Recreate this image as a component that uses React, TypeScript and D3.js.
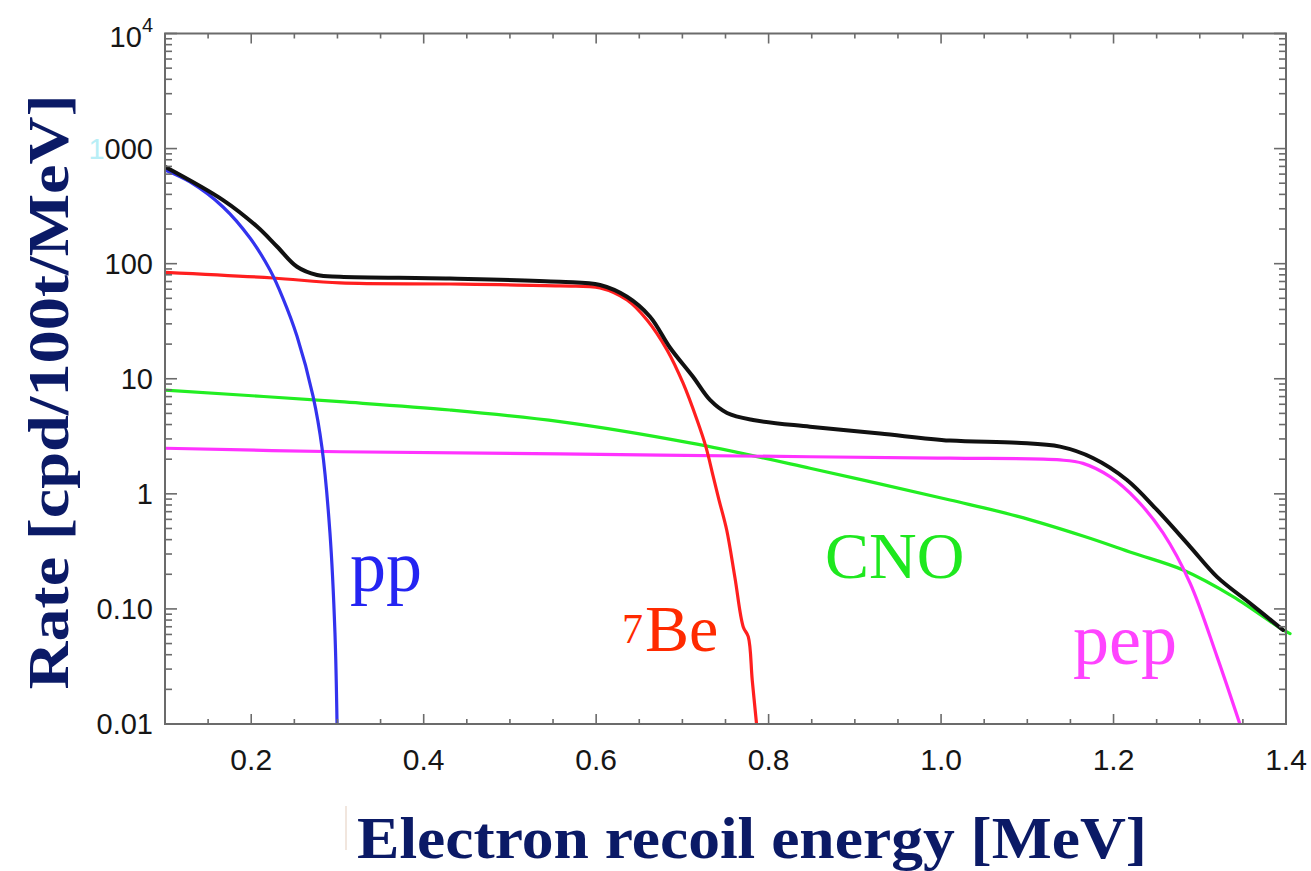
import { useEffect } from "react";
import * as d3 from "d3";

type Pt = [number, number];

// [electron recoil energy (MeV), rate (cpd/100t/MeV)]
const ppSpectrum: Pt[] = [
  [0.1, 652], [0.129, 513], [0.1673, 311], [0.1986, 167], [0.2218, 88],
  [0.2368, 50], [0.2531, 23.4], [0.2716, 7.1], [0.2821, 2.5], [0.2913, 0.457],
  [0.2971, 0.0618], [0.2995, 0.01],
];

const be7Spectrum: Pt[] = [
  [0.1, 84.1], [0.2252, 75.1], [0.303, 68], [0.4305, 66.6], [0.558, 64.0],
  [0.6045, 61.5], [0.6358, 48.3], [0.659, 32.4], [0.6822, 17.8], [0.7007, 9.19],
  [0.717, 4.38], [0.7272, 2.57], [0.7358, 1.41], [0.7425, 0.883], [0.7514, 0.485],
  [0.761, 0.186], [0.7706, 0.0697], [0.7764, 0.0574], [0.781, 0.0241], [0.786, 0.01],
];

const cnoSpectrum: Pt[] = [
  [0.1, 7.98], [0.303, 6.32], [0.4305, 5.35], [0.558, 4.24], [0.7088, 2.77],
  [0.848, 1.67], [1.0104, 0.883], [1.088, 0.64], [1.1646, 0.43], [1.2226, 0.306],
  [1.2806, 0.218], [1.3386, 0.128], [1.3965, 0.0656], [1.4047, 0.061],
];

const pepSpectrum: Pt[] = [
  [0.1, 2.49], [0.303, 2.32], [0.558, 2.22], [0.848, 2.1], [1.0104, 2.04],
  [1.138, 1.97], [1.1646, 1.84], [1.1959, 1.41], [1.2272, 0.883], [1.2574, 0.457],
  [1.2887, 0.168], [1.32, 0.0385], [1.3465, 0.01],
];

const totalSpectrum: Pt[] = [
  [0.1, 696], [0.1673, 357], [0.2067, 210], [0.2299, 141], [0.2531, 94],
  [0.2763, 79.8], [0.303, 77.1], [0.4305, 74.3], [0.5581, 69.7], [0.6045, 65.3],
  [0.6358, 51.6], [0.6625, 34.6], [0.6857, 18.6], [0.7123, 10.4], [0.732, 6.54],
  [0.7518, 5.04], [0.7819, 4.38], [0.848, 3.83], [0.9292, 3.34], [1.0104, 2.9],
  [1.088, 2.78], [1.138, 2.57], [1.176, 2.05], [1.2156, 1.32], [1.2504, 0.724],
  [1.2887, 0.348], [1.32, 0.19], [1.3583, 0.112], [1.3965, 0.0656],
];

const xMajorTicks = [0.2, 0.4, 0.6, 0.8, 1.0, 1.2, 1.4];
const xTickLabels = ["0.2", "0.4", "0.6", "0.8", "1.0", "1.2", "1.4"];
const yDecades = [0.01, 0.1, 1, 10, 100, 1000, 10000];
const yTickLabels = ["0.01", "0.10", "1", "10", "100", "1000", "10^4"];

const W = 1311;
const H = 871;
const margin = { top: 33.5, right: 25, bottom: 147, left: 165 };

export default function App() {
  useEffect(() => {
    document.body.style.margin = "0";
  }, []);

  const x = d3.scaleLinear().domain([0.1, 1.4]).range([margin.left, W - margin.right]);
  const y = d3.scaleLog().domain([0.01, 1e4]).range([H - margin.bottom, margin.top]);
  const [x0, x1] = x.range();
  const [y0, y1] = y.range(); // y0 bottom, y1 top

  const line = d3
    .line<Pt>()
    .x(d => x(d[0]))
    .y(d => y(d[1]))
    .curve(d3.curveCatmullRom.alpha(0.5));

  // minor ticks every 0.05 MeV, 2..9 per decade
  const xMinor = d3.range(0.15, 1.4, 0.05).filter(v => !xMajorTicks.some(m => Math.abs(m - v) < 1e-6));
  const yMinor = yDecades.slice(0, -1).flatMap(d => d3.range(2, 10).map(k => k * d));

  const axisColor = "#6b6b6b";
  const tickFont = "'Liberation Sans', Arial, sans-serif";
  const serif = "'Liberation Serif', 'Times New Roman', serif";
  const titleColor = "#0b1a66";

  const series = [
    { data: cnoSpectrum, color: "#22ee22", width: 3.2 },
    { data: pepSpectrum, color: "#ff33ff", width: 3.2 },
    { data: be7Spectrum, color: "#ff1f1f", width: 3.2 },
    { data: ppSpectrum, color: "#3333ee", width: 3.2 },
    { data: totalSpectrum, color: "#111111", width: 4 },
  ];

  return (
    <svg width={W} height={H} style={{ display: "block", background: "#fff" }}>
      <defs>
        <clipPath id="plot-clip">
          <rect x={x0} y={y1} width={x1 - x0 + 6} height={y0 - y1} />
        </clipPath>
      </defs>

      {/* curves */}
      <g clipPath="url(#plot-clip)" fill="none" strokeLinejoin="round" strokeLinecap="round">
        {series.map((s, i) => (
          <path key={i} d={line(s.data) || ""} stroke={s.color} strokeWidth={s.width} />
        ))}
      </g>

      {/* frame */}
      <rect x={x0} y={y1} width={x1 - x0} height={y0 - y1} fill="none" stroke={axisColor} strokeWidth={2} />

      {/* ticks on all four sides */}
      <g stroke={axisColor} strokeWidth={1.6}>
        {xMajorTicks.map(v => (
          <g key={"xM" + v}>
            <line x1={x(v)} x2={x(v)} y1={y0} y2={y0 - 10} />
            <line x1={x(v)} x2={x(v)} y1={y1} y2={y1 + 10} />
          </g>
        ))}
        {xMinor.map(v => (
          <g key={"xm" + v}>
            <line x1={x(v)} x2={x(v)} y1={y0} y2={y0 - 5} />
            <line x1={x(v)} x2={x(v)} y1={y1} y2={y1 + 5} />
          </g>
        ))}
        {yDecades.map(v => (
          <g key={"yM" + v}>
            <line x1={x0} x2={x0 + 12} y1={y(v)} y2={y(v)} />
            <line x1={x1} x2={x1 - 12} y1={y(v)} y2={y(v)} />
          </g>
        ))}
        {yMinor.map(v => (
          <g key={"ym" + v}>
            <line x1={x0} x2={x0 + 7} y1={y(v)} y2={y(v)} />
            <line x1={x1} x2={x1 - 7} y1={y(v)} y2={y(v)} />
          </g>
        ))}
      </g>

      {/* x tick labels */}
      <g fontFamily={tickFont} fontSize={30} fill="#161616" textAnchor="middle">
        {xMajorTicks.map((v, i) => (
          <text key={v} x={x(v)} y={y0 + 46}>
            {xTickLabels[i]}
          </text>
        ))}
      </g>

      {/* y tick labels */}
      <g fontFamily={tickFont} fontSize={29} fill="#161616" textAnchor="end">
        {yDecades.map((v, i) => {
          const lab = yTickLabels[i];
          if (lab.includes("^")) {
            const [base, exp] = lab.split("^");
            return (
              <text key={v} x={x0 - 12} y={y(v)} dy="0.45em">
                {base}
                <tspan fontSize={20} dy="-0.75em">{exp}</tspan>
              </text>
            );
          }
          if (lab === "1000") {
            return (
              <text key={v} x={x0 - 12} y={y(v)} dy="0.36em">
                <tspan fill="#b8eef6">1</tspan>
                000
              </text>
            );
          }
          return (
            <text key={v} x={x0 - 12} y={y(v)} dy="0.36em">
              {lab}
            </text>
          );
        })}
      </g>

      {/* curve labels */}
      <g fontFamily={serif}>
        <text x={350} y={591} fontSize={72} fill="#2424f2">pp</text>
        <text x={622} y={643} fontSize={42} fill="#ff2a00">7</text>
        <text x={645} y={651} fontSize={66} fill="#ff2a00">Be</text>
        <text x={825} y={578} fontSize={66} fill="#1ee81e">CNO</text>
        <text x={1073} y={664} fontSize={72} fill="#ff44ff">pep</text>
      </g>

      {/* axis titles */}
      <text
        transform={`translate(68,392) rotate(-90)`}
        textAnchor="middle"
        fontFamily={serif}
        fontWeight="bold"
        fontSize={57}
        fill={titleColor}
        textLength={595}
        lengthAdjust="spacingAndGlyphs"
      >
        Rate [cpd/100t/MeV]
      </text>
      <line x1={346} x2={346} y1={806} y2={850} stroke="#f1e6de" strokeWidth={2} />
      <text
        x={752}
        y={858}
        textAnchor="middle"
        fontFamily={serif}
        fontWeight="bold"
        fontSize={60}
        fill={titleColor}
        textLength={790}
        lengthAdjust="spacingAndGlyphs"
      >
        Electron recoil energy [MeV]
      </text>
    </svg>
  );
}
